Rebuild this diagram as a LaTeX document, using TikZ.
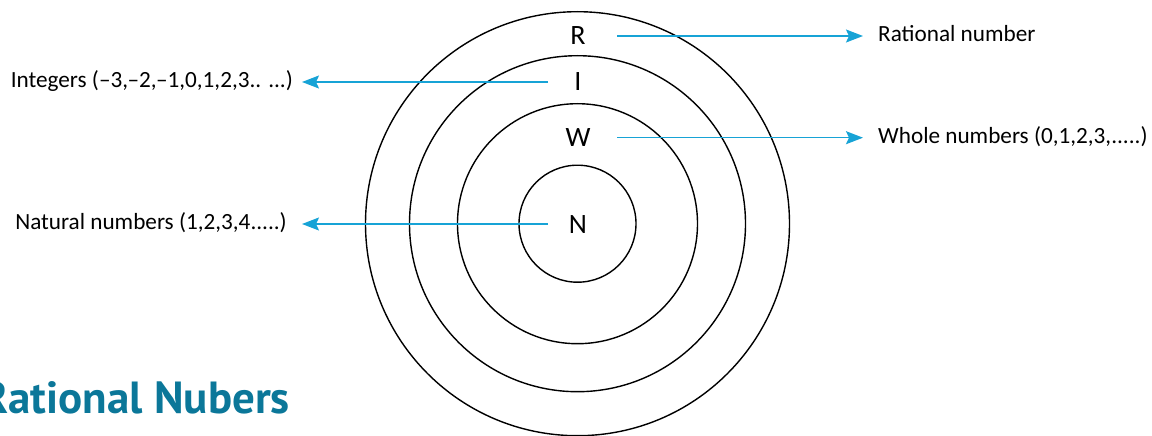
\documentclass[tikz,border=0pt]{standalone}
\usepackage{fontspec}
\setmainfont{Carlito}
\newfontfamily\titlefont{PT Sans}
\usetikzlibrary{arrows.meta}
\definecolor{arrowcyan}{HTML}{17A3D6}
\definecolor{titleteal}{HTML}{0B7799}
\begin{document}
\begin{tikzpicture}[x=1pt,y=1pt,
  ring/.style={draw=black,line width=1.4pt},
  letter/.style={font=\fontsize{28}{30}\selectfont,inner sep=0pt,text height=18pt,text depth=0pt},
  lab/.style={font=\fontsize{23.2}{26}\selectfont,inner sep=0pt,text height=16pt,text depth=4.5pt},
  arr/.style={draw=arrowcyan,line width=1.5pt,-{Stealth[length=17pt,width=13pt,inset=3pt]}}
]
\useasboundingbox (0,0) rectangle (1152,-436);
\coordinate (c) at (577.5,-223.7);
\draw[ring] (c) circle[radius=212];
\draw[ring] (c) circle[radius=168];
\draw[ring] (c) circle[radius=120];
\draw[ring] (c) circle[radius=58.5];

\node[letter] (R) at (578,-36) {R};
\node[letter] (I) at (578,-82) {I};
\node[letter] (W) at (578,-137.7) {W};
\node[letter] (N) at (578,-224) {N};

\node[lab,anchor=west] (rlab) at (878,-36) {Rational number};
\node[lab,anchor=east] (ilab) at (293,-82) {Integers (–3,–2,–1,0,1,2,3.. ...)};
\node[lab,anchor=west] (wlab) at (878,-137.7) {Whole numbers (0,1,2,3,.....)};
\node[lab,anchor=east] (nlab) at (287,-224) {Natural numbers (1,2,3,4.....)};

\draw[arr] ([xshift=39pt]R.center) -- ([xshift=-15pt]rlab.west);
\draw[arr] ([xshift=-30pt]I.center) -- ([xshift=9pt]ilab.east);
\draw[arr] ([xshift=39pt]W.center) -- ([xshift=-15pt]wlab.west);
\draw[arr] ([xshift=-30pt]N.center) -- ([xshift=15pt]nlab.east);

\node[anchor=base east,inner sep=0pt,text=titleteal,font=\titlefont\bfseries\fontsize{45}{50}\selectfont] (title) at (290,-413) {Rational Nubers};
\end{tikzpicture}
\end{document}
